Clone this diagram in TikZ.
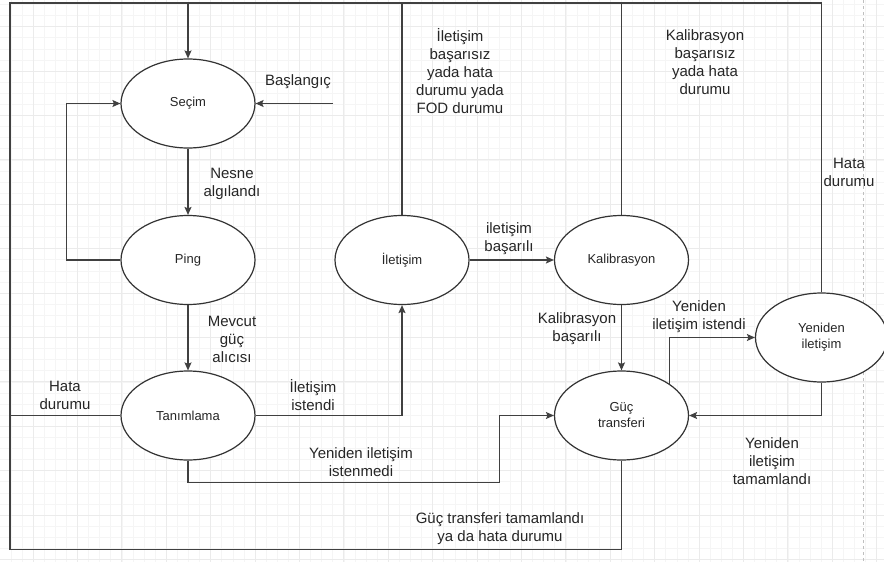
\documentclass[tikz,border=0pt]{standalone}
\usepackage{fontspec}
\setmainfont{Liberation Sans}
\usetikzlibrary{arrows.meta, shapes.geometric, calc}

\begin{document}
\begin{tikzpicture}[
		x=1pt, y=-1pt,
		>={Stealth[length=8pt, width=7pt, inset=1.5pt]},
		line width=1.2pt,
		state/.style={
				ellipse,
				minimum width = 134pt,
				minimum height = 89pt,
				inner sep=0pt,
				align=center,
				draw=black!80,
				fill=white,
				text=black!85,
				font=\fontsize{13}{16}\selectfont
			},
		lbl/.style={
				align=center,
				inner sep=0pt,
				text=black!85,
				font=\fontsize{15}{18}\selectfont
			},
		link/.style={draw=black!75},
		minorgrid/.style={draw=black!4, line width=0.6pt},
		majorgrid/.style={draw=black!8, line width=0.8pt},
		pageedge/.style={draw=black!25, line width=0.8pt, dash pattern=on 3pt off 3pt},
		]

		% background and grid
		\fill[white] (0,0) rectangle (884,562);
		\useasboundingbox (0,0) rectangle (884,562);
		\foreach \gx in {0,...,80} \draw[minorgrid] ({-0.3+11.1*\gx},0) -- ({-0.3+11.1*\gx},562);
		\foreach \gy in {0,...,50} \draw[minorgrid] (0,{4.4+11.1*\gy}) -- (884,{4.4+11.1*\gy});
		\foreach \gx in {-1,...,19} \draw[majorgrid] ({33+44.4*\gx},0) -- ({33+44.4*\gx},562);
		\foreach \gy in {0,...,12} \draw[majorgrid] (0,{26.6+44.4*\gy}) -- (884,{26.6+44.4*\gy});
		\draw[pageedge] (863,0) -- (863,562);

		% states
		\node[state] (secim) at (188,103.5) {Seçim};

		\node[state] (ping) at (188,260) {Ping};

		\node[state] (tani) at (188,415.5) {Tanımlama};

		\node[state] (ilet) at (402,260) {İletişim};

		\node[state] (kal) at (621.5,260) {Kalibrasyon};

		\node[state] (guc) at (621.5,415.5) {Güç\\transferi};

		\node[state, minimum width=132pt] (yeni) at (821.5,337.5) {Yeniden\\iletişim};

		\coordinate (topleft) at (10,3);
		\coordinate (topmid) at (188,3);
		\coordinate (start) at (333,103.5);

		% connectors
		\draw[link, ->] (start) -- (secim.east);

		\draw[link, ->] (secim) -- (ping);

		\draw[link, ->] (ping.west) -- ++(-54.3,0) |- (secim.west);

		\draw[link, ->] (ping) -- (tani);

		\draw[link, ->] (tani.east) -| (ilet.south);

		\draw[link, ->] (tani.south) |- (499.3,482.7) |- (guc.west);

		\draw[link, ->] (ilet) -- (kal);

		\draw[link, ->] (kal) -- (guc);

		\draw[link, ->] (guc.north east) |- (yeni.west);

		\draw[link, ->] (yeni.south) |- (guc.east);

		\draw[link, ->] (yeni.north) |- (topmid) -- (secim.north);

		\draw[link] (ilet.north) -- (ilet.north |- topmid);

		\draw[link] (kal.north) -- (kal.north |- topmid);

		\draw[link] (tani.west) -| (topleft) -- (topmid);

		\draw[link] (guc.south) -- ++(0,89) -| (topleft);

		% labels
		\node[lbl] (lstart) at (298,82) {Başlangıç};

		\node[lbl] (lnesne) at (232,183.5) {Nesne\\algılandı};

		\node[lbl] (lmevcut) at (232,339) {Mevcut\\güç\\alıcısı};

		\node[lbl] (lhata) at (65,395) {Hata\\durumu};

		\node[lbl] (listendi) at (313,395) {İletişim\\istendi};

		\node[lbl] (listenmedi) at (361,462) {Yeniden iletişim\\istenmedi};

		\node[lbl] (lfail) at (460,71) {İletişim\\başarısız\\yada hata\\durumu yada\\FOD durumu};

		\node[lbl] (lkalfail) at (705,62) {Kalibrasyon\\başarısız\\yada hata\\durumu};

		\node[lbl] (lhatasag) at (849,172) {Hata\\durumu};

		\node[lbl] (lbasarili) at (509,238.5) {iletişim\\başarılı};

		\node[lbl] (lkalok) at (577,328.5) {Kalibrasyon\\başarılı};

		\node[lbl] (lyenist) at (699,317) {Yeniden\\iletişim istendi};

		\node[lbl] (lyentam) at (772,461) {Yeniden\\iletişim\\tamamlandı};

		\node[lbl] (lgucok) at (500,529) {Güç transferi tamamlandı\\ya da hata durumu};

	\end{tikzpicture}
\end{document}
